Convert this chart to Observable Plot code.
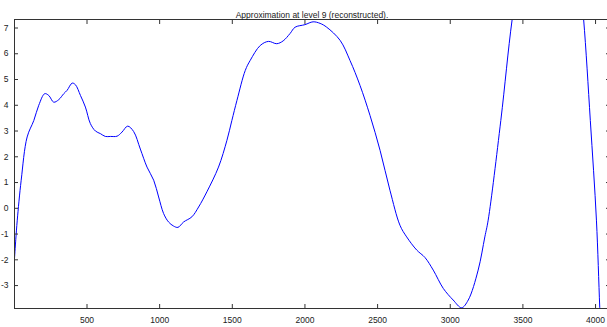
<!DOCTYPE html>
<html>
<head>
<meta charset="utf-8">
<script src="https://cdn.jsdelivr.net/npm/d3@7"></script>
<script src="https://cdn.jsdelivr.net/npm/@observablehq/plot@0.6"></script>
<style>
  html, body { margin: 0; padding: 0; background: #fff; overflow: hidden; }
</style>
</head>
<body>
<div id="chart"></div>
<script>
const title = "Approximation at level 9 (reconstructed).";
const sampleIndex = [1, 10, 20, 47, 88, 134, 168, 209, 237, 271, 306, 340, 363, 398, 420, 455, 489, 523, 558, 592, 626, 661, 707, 741, 780, 821, 867, 913, 959, 993, 1027, 1061, 1096, 1126, 1165, 1222, 1268, 1325, 1405, 1463, 1497, 1532, 1589, 1623, 1692, 1749, 1806, 1850, 1898, 1932, 2000, 2056, 2104, 2150, 2242, 2310, 2379, 2448, 2517, 2585, 2654, 2700, 2769, 2826, 2883, 2952, 3020, 3078, 3124, 3192, 3238, 3261, 3348, 3426, 3500, 3600, 3700, 3800, 3880, 3918, 3964, 4006, 4029, 4045];
const approxValue = [-1.95, -1.2, -0.46, 1.09, 2.77, 3.41, 4.0, 4.45, 4.38, 4.12, 4.22, 4.45, 4.58, 4.86, 4.8, 4.38, 3.93, 3.29, 3.0, 2.9, 2.79, 2.79, 2.8, 2.96, 3.19, 2.98, 2.3, 1.6, 1.09, 0.44, -0.2, -0.53, -0.69, -0.74, -0.53, -0.33, 0.05, 0.64, 1.6, 2.64, 3.41, 4.19, 5.35, 5.74, 6.32, 6.48, 6.39, 6.5, 6.79, 7.03, 7.13, 7.24, 7.18, 7.03, 6.52, 5.74, 4.77, 3.6, 2.25, 0.7, -0.66, -1.11, -1.62, -1.91, -2.4, -3.11, -3.56, -3.86, -3.56, -2.4, -1.11, -0.46, 3.41, 7.33, 10, 12.5, 13.5, 12.5, 9.5, 7.33, 3.41, -0.46, -3.86, -6];
const xTicks = [500, 1000, 1500, 2000, 2500, 3000, 3500, 4000];
const yTicks = [-3, -2, -1, 0, 1, 2, 3, 4, 5, 6, 7];
const xDomain = [1, 4096];
const yDomain = [-3.89, 7.33];

const data = sampleIndex.map((x, i) => ({x, y: approxValue[i]}));

const font = "'Liberation Sans', Arial, Helvetica, sans-serif";
const axisColor = "#333";
const plain = d => String(d);

const chart = Plot.plot({
  width: 607,
  height: 327,
  marginLeft: 14,
  marginRight: -2,
  marginTop: 19,
  marginBottom: 19,
  style: {fontFamily: font, fontSize: "8.5px", color: "#222", background: "#fff", overflow: "hidden"},
  x: {domain: xDomain, ticks: xTicks},
  y: {domain: yDomain, ticks: yTicks},
  marks: [
    Plot.line(data, {x: "x", y: "y", stroke: "#0000ff", strokeWidth: 1, curve: "catmull-rom", clip: true}),
    Plot.frame({stroke: axisColor, strokeWidth: 1}),
    Plot.axisX(xTicks, {anchor: "bottom", tickSize: -4, tickPadding: 12, tickFormat: plain, stroke: axisColor, label: null, fill: "#222"}),
    Plot.axisX(xTicks, {anchor: "top", tickSize: -4, tickFormat: () => "", stroke: axisColor, label: null}),
    Plot.axisY(yTicks, {anchor: "left", tickSize: -4, tickPadding: 10, tickFormat: plain, stroke: axisColor, label: null, fill: "#222"}),
    Plot.axisY(yTicks, {anchor: "right", tickSize: -4, tickFormat: () => "", stroke: axisColor, label: null}),
    Plot.text([title], {frameAnchor: "top", dy: -8, text: d => d, fontSize: 8.5, fill: "#222"})
  ]
});
document.getElementById("chart").appendChild(chart);
</script>
</body>
</html>
